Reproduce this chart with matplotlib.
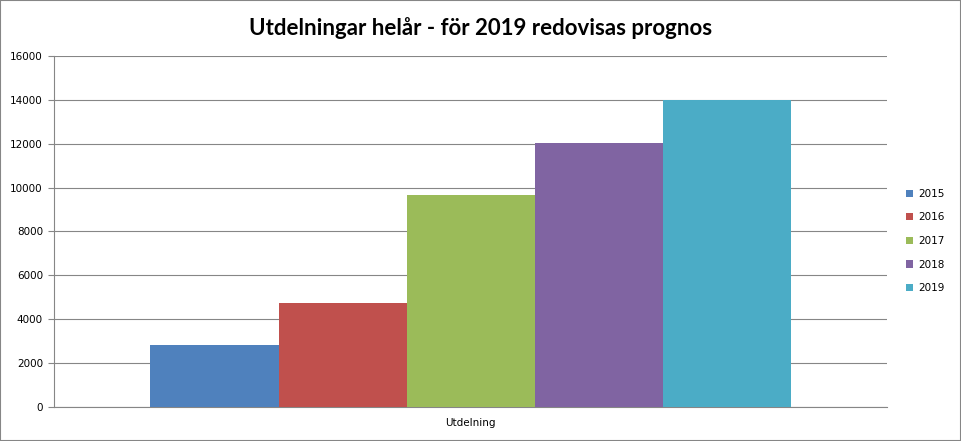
import matplotlib.pyplot as plt
from matplotlib.patches import Rectangle
import numpy as np

category = ["Utdelning"]
years = ["2015", "2016", "2017", "2018", "2019"]
values = [2830, 4740, 9660, 12030, 13980]
colors = ["#4f81bd", "#c0504d", "#9bbb59", "#8064a2", "#4bacc6"]

fig = plt.figure(figsize=(9.61, 4.41), dpi=100)
ax = fig.add_axes([0.0562, 0.0771, 0.867, 0.796])

w = 0.1537
for i, (yr, v) in enumerate(zip(years, values)):
    ax.bar(0 + (i - 2) * w, v, width=w, color=colors[i], label=yr, zorder=3)

ax.set_xlim(-0.5, 0.5)
ax.set_ylim(0, 16000)
ax.set_yticks(np.arange(0, 16001, 2000))
ax.set_xticks([0])
ax.set_xticklabels(category, fontsize=7.5)
ax.tick_params(axis="x", length=0, pad=8)
ax.tick_params(axis="y", labelsize=7.5, length=4, color="#868686", pad=4)
ax.grid(axis="y", color="#868686", linewidth=0.8, zorder=0)
for s in ["top", "right"]:
    ax.spines[s].set_visible(False)
for s in ["left", "bottom"]:
    ax.spines[s].set_color("#868686")
    ax.spines[s].set_linewidth(0.8)

fig.suptitle("Utdelningar helår - för 2019 redovisas prognos", fontsize=16,
             fontweight="bold", family="Lato", y=0.962)

leg = ax.legend(loc="center left", bbox_to_anchor=(1.022, 0.473), frameon=False,
                fontsize=7.5, handlelength=0.7, handleheight=0.7,
                handletextpad=0.5, labelspacing=1.3, borderaxespad=0, borderpad=0)

fig.patches.append(Rectangle((0, 0), 1, 1, transform=fig.transFigure,
                             fill=False, edgecolor="#868686", linewidth=1.5))

fig.savefig("out.png", dpi=100)
